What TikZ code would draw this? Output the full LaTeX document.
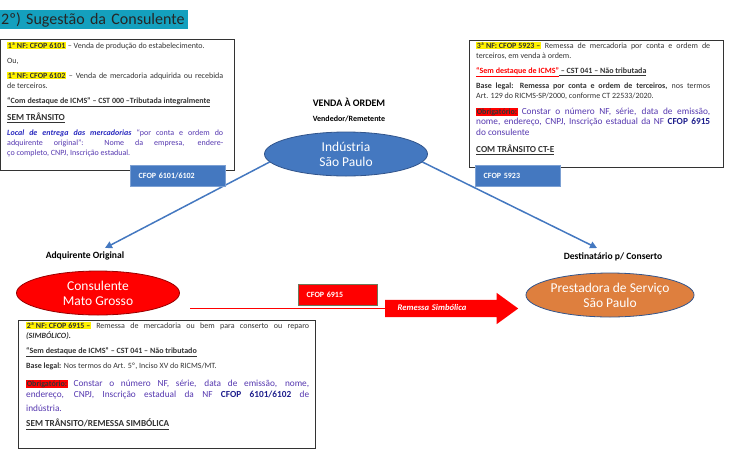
\documentclass[tikz,border=0pt]{standalone}
\usepackage{fontspec}
\setmainfont{Carlito}
\usetikzlibrary{arrows.meta,shapes.geometric,shapes.arrows}

\definecolor{tituloazul}{RGB}{20,160,190}
\definecolor{azul}{RGB}{68,120,192}
\definecolor{azulborda}{RGB}{50,85,140}
\definecolor{laranja}{RGB}{222,127,62}
\definecolor{roxo}{RGB}{85,55,175}
\definecolor{azulescuro}{RGB}{40,40,190}
\definecolor{marinho}{RGB}{30,30,140}
\definecolor{oliva}{RGB}{110,120,90}

\newcommand{\realce}[1]{{\setlength{\fboxsep}{0.6pt}\colorbox{yellow}{#1}}}
\newcommand{\obrig}{{\setlength{\fboxsep}{0.6pt}\colorbox{red}{\textbf{Obrigatório:}}}}
\newcommand{\sublinha}[1]{\underline{#1}}

\tikzset{
    titulo/.style={fill=tituloazul, anchor=north west, text width=186pt, minimum height=19pt, inner xsep=1pt, inner ysep=0pt, align=left, text=black!85, font=\fontsize{16}{18}\selectfont},
    moldura/.style={draw=black!80, line width=0.9pt},
    nota/.style={anchor=north west, inner sep=0pt, align=justify, text=black!80, font=\fontsize{8}{10}\selectfont, execute at begin node=\setlength{\parskip}{5pt}},
    elipse/.style={ellipse, draw=azulborda, line width=0.8pt, minimum width=163pt, minimum height=44pt, inner sep=0pt, text=white, align=center, font=\fontsize{13.5}{15}\selectfont},
    rotulo/.style={text=black, font=\bfseries\fontsize{9.6}{11}\selectfont},
    cfop/.style={anchor=north west, minimum height=20.5pt, inner xsep=8.5pt, inner ysep=0pt, align=left, text=white, font=\bfseries\fontsize{8}{10}\selectfont},
    seta/.style={->, azul, line width=1.5pt},
}

\begin{document}
\begin{tikzpicture}[x=1pt, y=-1pt, >={Triangle[width=7pt,length=7pt]}]
\useasboundingbox (0,0) rectangle (735,469);

\node[titulo] (titulo) at (0,10) {2º) Sugestão da Consulente};

% notas fiscais
\draw[moldura] (0,39) rectangle (234,170);
\draw[moldura] (469,40) rectangle (723,167);
\draw[moldura] (18,320) rectangle (315,448);

\node[nota, text width=216pt] (notaum) at (7,42) {%
\realce{\textbf{1ª NF: CFOP 6101}} – Venda de produção do estabelecimento.\par
Ou,\par
\realce{\textbf{1ª NF: CFOP 6102}} – Venda de mercadoria adquirida ou recebida\linebreak de terceiros.\par
\sublinha{\textbf{“Com destaque de ICMS” – CST 000 –Tributada integralmente}}\par
{\fontsize{9.2}{11}\selectfont\sublinha{\textbf{SEM TRÂNSITO}}}\par
\textcolor{azulescuro}{\textbf{\textit{Local de entrega das mercadorias}}} \textcolor{roxo}{“por conta e ordem do\linebreak adquirente original”: Nome da empresa, endere-\linebreak ço completo, CNPJ, Inscrição estadual.}};

\node[nota, text width=234pt] (notatres) at (476,42) {%
\realce{\textbf{3ª NF: CFOP 5923 –}} Remessa de mercadoria por conta e ordem de\linebreak terceiros, em venda à ordem.\par
\textcolor{red}{\sublinha{\textbf{“Sem destaque de ICMS”}}}\sublinha{\textbf{~– CST 041 – Não tributada}}\par
\textbf{Base legal: Remessa por conta e ordem de terceiros,} nos termos\linebreak Art. 129 do RICMS-SP/2000, conforme CT 22533/2020.\par
{\obrig{} \color{roxo}\fontsize{9.3}{10.8}\selectfont Constar o número NF, série, data de emissão,\linebreak nome, endereço, CNPJ, Inscrição estadual da NF \textcolor{marinho}{\textbf{CFOP 6915}}\linebreak do consulente\par}
\vspace{2pt}{\fontsize{9.2}{11}\selectfont\sublinha{\textbf{COM TRÂNSITO CT-E}}}};

\node[nota, text width=283pt] (notadois) at (26,322) {%
\realce{\textbf{2ª NF: CFOP 6915 –}} Remessa de mercadoria ou bem para conserto ou reparo\linebreak \textbf{\textit{(SIMBÓLICO).}}\par
\sublinha{\textbf{“Sem destaque de ICMS” – CST 041 – Não tributado}}\par
\textbf{Base legal:} Nos termos do Art. 5º, Inciso XV do RICMS/MT.\par
\vspace{2pt}{\obrig{} \color{roxo}\fontsize{9.3}{11}\selectfont Constar o número NF, série, data de emissão, nome,\linebreak endereço, CNPJ, Inscrição estadual da NF \textcolor{marinho}{\textbf{CFOP 6101/6102}} de\linebreak \rule{0pt}{12pt}indústria.\par}
{\fontsize{9.2}{11}\selectfont\sublinha{\textbf{SEM TRÂNSITO/REMESSA SIMBÓLICA}}}};

% partes
\node[rotulo, font=\bfseries\fontsize{10}{12}\selectfont] (vendaordem) at (349,102) {VENDA À ORDEM};
\node[rotulo, font=\bfseries\fontsize{8}{10}\selectfont] (vendedor) at (349,119) {Vendedor/Remetente};
\node[elipse, fill=azul] (industria) at (346,154) {Indústria\\São Paulo};
\node[rotulo] (adquirente) at (85,256) {Adquirente Original};
\node[rotulo] (destinatario) at (613,257) {Destinatário p/ Conserto};
\node[elipse, fill=red, draw=red!60!black] (consulente) at (98,293) {Consulente\\Mato Grosso};
\node[elipse, fill=laranja] (prestadora) at (610,295) {Prestadora de Serviço\\São Paulo};

\coordinate (pontaadq) at (105,248);
\coordinate (pontadest) at (597,248);
\draw[seta] (industria.186) -- (pontaadq);
\draw[seta] (industria.-6) -- (pontadest);

% remessa simbolica
\node[single arrow, fill=red, anchor=tail, text width=96pt, inner xsep=8pt, text height=6pt, text depth=1.5pt, inner ysep=4.75pt, minimum height=133pt, single arrow head extend=7pt, single arrow tip angle=72, text=white, font=\bfseries\itshape\fontsize{8.6}{10}\selectfont] (remessa) at (385,308.5) {Remessa Simbólica};
\coordinate (iniciolinha) at (190,308.5);
\draw[red, line width=1.5pt] (iniciolinha) -- (remessa.tail);

\foreach \nome/\cx/\cy/\larg/\cor/\borda/\txt in {cfopum/130/165/78/azul/azul!70!white/{CFOP 6101/6102}, cfoptres/475/165/68/azul/azul!70!white/{CFOP 5923}, cfopdois/298/284/62/red/oliva/{CFOP 6915}}
{
    \node[cfop, fill=\cor, draw=\borda, text width=\larg pt] (\nome) at (\cx,\cy) {\txt};
}
\end{tikzpicture}
\end{document}
